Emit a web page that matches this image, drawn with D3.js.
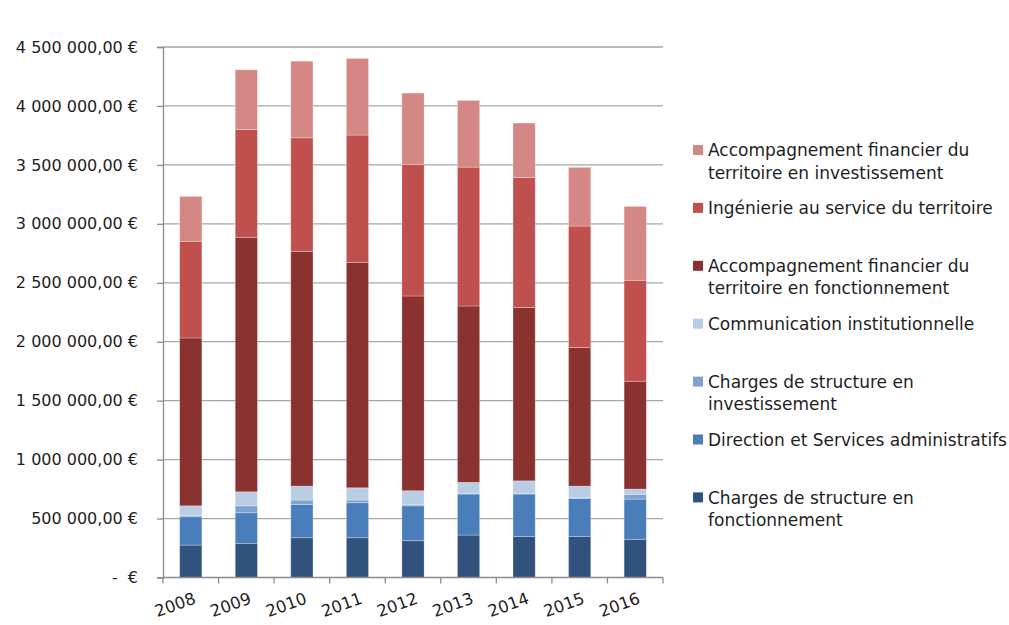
<!DOCTYPE html>
<html>
<head>
<meta charset="utf-8">
<script src="https://cdn.jsdelivr.net/npm/d3@7"></script>
<style>
  html, body { margin: 0; padding: 0; background: #fff; }
  svg { display: block; font-family: "DejaVu Sans", Verdana, sans-serif; }
</style>
</head>
<body>
<svg id="chart" width="1009" height="625"></svg>
<script>
// Budget by activity, 2008–2016 (euros)
const years = ["2008", "2009", "2010", "2011", "2012", "2013", "2014", "2015", "2016"];

const seriesNames = [
  "Charges de structure en fonctionnement",
  "Direction et Services administratifs",
  "Charges de structure en investissement",
  "Communication institutionnelle",
  "Accompagnement financier du territoire en fonctionnement",
  "Ingénierie au service du territoire",
  "Accompagnement financier du territoire en investissement"
];

// Legend labels, as wrapped in the legend box
const legendLines = [
  ["Charges de structure en", "fonctionnement"],
  ["Direction et Services administratifs"],
  ["Charges de structure en", "investissement"],
  ["Communication institutionnelle"],
  ["Accompagnement financier du", "territoire en fonctionnement"],
  ["Ingénierie au service du territoire"],
  ["Accompagnement financier du", "territoire en investissement"]
];

const chargesFonctionnement = [275000, 290000, 337000, 337000, 312000, 360000, 349000, 349000, 324000];
const directionServices     = [240000, 259000, 283000, 297000, 296000, 348000, 359000, 322000, 341000];
const chargesInvestissement = [10000, 59000, 37000, 23000, 9000, 6000, 6000, 5000, 40000];
const communication         = [83000, 119000, 118000, 104000, 119000, 93000, 106000, 99000, 45000];
const accompFonctionnement  = [1424000, 2159000, 1992000, 1910000, 1652000, 1496000, 1470000, 1176000, 915000];
const ingenierie            = [820000, 915000, 963000, 1082000, 1114000, 1178000, 1104000, 1030000, 856000];
const accompInvestissement  = [381000, 506000, 650000, 650000, 607000, 566000, 461000, 498000, 627000];

const yTicks = [0, 500000, 1000000, 1500000, 2000000, 2500000, 3000000, 3500000, 4000000, 4500000];

const colors = ["#30527D", "#4A7EBB", "#7FA2D0", "#B9CDE5", "#8A3230", "#C0504D", "#D48785"];

const seriesValues = [chargesFonctionnement, directionServices, chargesInvestissement,
  communication, accompFonctionnement, ingenierie, accompInvestissement];

const keys = seriesNames.map((_, i) => "s" + i);
const table = years.map((yr, j) => {
  const row = { year: yr };
  keys.forEach((k, i) => { row[k] = seriesValues[i][j]; });
  return row;
});

const svg = d3.select("#chart");

const plot = { left: 163, right: 663, top: 47, bottom: 577.5 };

const x = d3.scaleBand()
  .domain(years)
  .range([plot.left, plot.right])
  .paddingInner(0.6)
  .paddingOuter(0.3);

const y = d3.scaleLinear()
  .domain([0, 4500000])
  .range([plot.bottom, plot.top]);

// Horizontal gridlines
svg.append("g")
  .selectAll("line")
  .data(yTicks.filter(d => d > 0))
  .join("line")
  .attr("x1", plot.left)
  .attr("x2", plot.right)
  .attr("y1", d => y(d))
  .attr("y2", d => y(d))
  .attr("stroke", "#A6A6A6")
  .attr("stroke-width", 1.3);

// Stacked bars
const stack = d3.stack().keys(keys);
const layers = stack(table);

svg.append("g")
  .selectAll("g")
  .data(layers)
  .join("g")
  .attr("fill", (d, i) => colors[i])
  .selectAll("rect")
  .data(d => d)
  .join("rect")
  .attr("x", d => x(d.data.year))
  .attr("width", x.bandwidth())
  .attr("y", d => y(d[1]))
  .attr("height", d => y(d[0]) - y(d[1]))
  .attr("stroke", "#ffffff")
  .attr("stroke-opacity", 0.35)
  .attr("stroke-width", 0.8);

// Y axis
const fmtEuro = v => {
  if (v === 0) return "-  €";
  const s = d3.format(",.2f")(v).replace(/,/g, " ").replace(".", ",");
  return s + " €";
};

const yAxis = d3.axisLeft(y)
  .tickValues(yTicks)
  .tickSize(6)
  .tickPadding(19)
  .tickFormat(fmtEuro);

const gy = svg.append("g")
  .attr("transform", `translate(${plot.left},0)`)
  .call(yAxis);
gy.select(".domain").attr("stroke", "#8C8C8C").attr("stroke-width", 1.3);
gy.selectAll(".tick line").attr("stroke", "#8C8C8C").attr("stroke-width", 1.3);
gy.selectAll(".tick text")
  .attr("fill", "#1E1E1E")
  .style("font-size", "16px")
  .style("font-family", "'DejaVu Sans', Verdana, sans-serif")
  .attr("xml:space", "preserve")
  .style("white-space", "pre");

// X axis: ticks sit on category boundaries
const boundaries = d3.range(years.length + 1).map(i => plot.left + i * x.step());
const gx = svg.append("g");
gx.append("line")
  .attr("x1", plot.left).attr("x2", plot.right)
  .attr("y1", plot.bottom).attr("y2", plot.bottom)
  .attr("stroke", "#8C8C8C").attr("stroke-width", 1.3);
gx.selectAll("line.tk")
  .data(boundaries)
  .join("line")
  .attr("class", "tk")
  .attr("x1", d => d).attr("x2", d => d)
  .attr("y1", plot.bottom).attr("y2", plot.bottom + 6)
  .attr("stroke", "#8C8C8C").attr("stroke-width", 1.3);

gx.selectAll("text")
  .data(years)
  .join("text")
  .attr("transform", d => `translate(${x(d) + x.bandwidth() / 2 + 4},${plot.bottom + 20}) rotate(-20)`)
  .attr("text-anchor", "end")
  .attr("dy", "0.35em")
  .attr("fill", "#1E1E1E")
  .style("font-size", "16.5px")
  .text(d => d);

// Legend (top entry = top of the stack)
const legendOrder = d3.range(seriesNames.length).reverse();
const legend = svg.append("g");
const lg = legend.selectAll("g")
  .data(legendOrder)
  .join("g")
  .attr("transform", (d, i) => `translate(693,${150 + i * 57.9})`);

lg.append("rect")
  .attr("x", 0)
  .attr("y", -5)
  .attr("width", 10)
  .attr("height", 10)
  .attr("fill", d => colors[d]);

lg.each(function (d) {
  const t = d3.select(this).append("text")
    .attr("x", 15)
    .attr("fill", "#1E1E1E")
    .style("font-size", "17px");
  legendLines[d].forEach((line, k) => {
    t.append("tspan")
      .attr("x", 15)
      .attr("y", k * 22.5)
      .attr("dy", "0.36em")
      .text(line);
  });
});
</script>
</body>
</html>
